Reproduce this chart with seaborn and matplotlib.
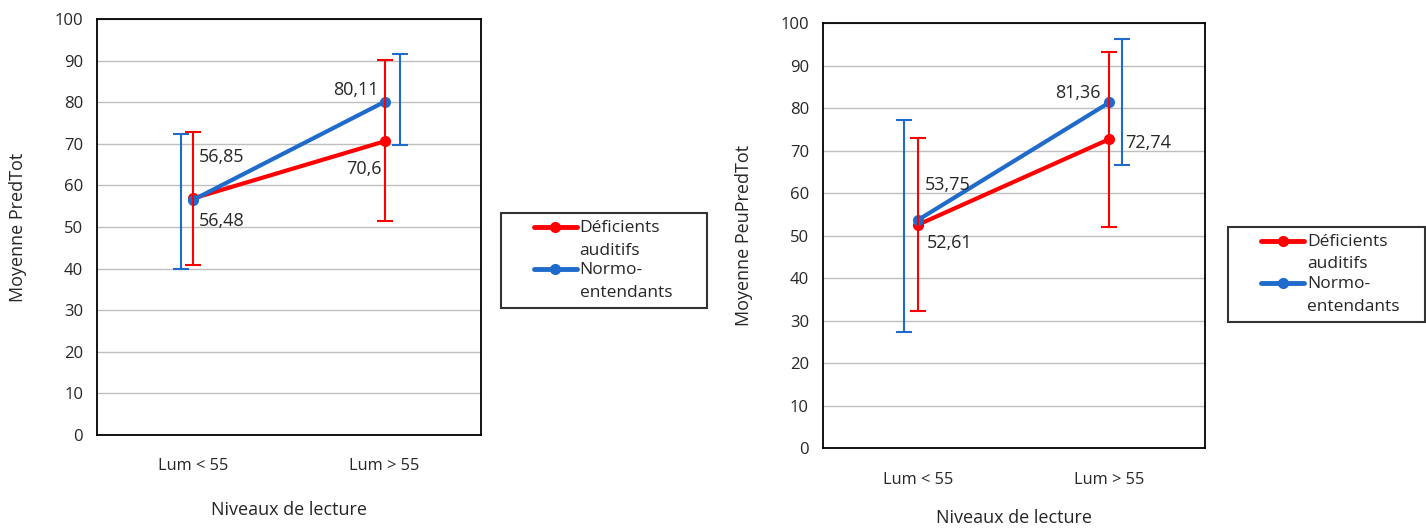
import matplotlib
matplotlib.use('Agg')
import matplotlib.pyplot as plt
from matplotlib.legend_handler import HandlerLine2D
import seaborn as sns
import pandas as pd

# Data
niveaux = ['Lum < 55', 'Lum > 55']
groupes = ['Déficients\nauditifs', 'Normo-\nentendants']

# PredTot (left chart)
pred_def = [56.85, 70.6]
pred_norm = [56.48, 80.11]
pred_def_low = [40.9, 51.4]
pred_def_high = [72.8, 90.1]
pred_norm_low = [39.9, 69.8]
pred_norm_high = [72.4, 91.7]

# PeuPredTot (right chart)
peu_def = [52.61, 72.74]
peu_norm = [53.75, 81.36]
peu_def_low = [32.2, 52.1]
peu_def_high = [73.1, 93.2]
peu_norm_low = [27.3, 66.6]
peu_norm_high = [77.2, 96.2]

RED = '#FF0000'
BLUE = '#1F6BCB'
TXT = '#262626'


class FirstLineHandler(HandlerLine2D):
    # put the legend line next to the first text line, Excel style
    def create_artists(self, legend, orig_handle, xdescent, ydescent,
                       width, height, fontsize, trans):
        arts = super().create_artists(legend, orig_handle, xdescent, ydescent,
                                      width, height, fontsize, trans)
        x0 = -xdescent + width * 0.38
        x1 = -xdescent + width
        y = (height - ydescent) / 2 + 0.7 * fontsize
        for a in arts:
            a.set_xdata([x0, (x0 + x1) / 2, x1])
            a.set_ydata([y, y, y])
        return arts


sns.set_theme(style='white')
plt.rcParams['font.family'] = ['Open Sans', 'DejaVu Sans']

fig = plt.figure(figsize=(14.26, 5.29), dpi=100)
ax1 = fig.add_axes([0.068, 0.178, 0.269, 0.786])
ax2 = fig.add_axes([0.577, 0.153, 0.268, 0.803])


def draw(ax, m_def, m_norm, lo_def, hi_def, lo_norm, hi_norm, ylabel,
         lab_offsets, norm_shift, leg_box, xpad):
    df = pd.DataFrame({
        'niveau': niveaux * 2,
        'groupe': [groupes[0]] * 2 + [groupes[1]] * 2,
        'moyenne': m_def + m_norm,
    })
    sns.lineplot(data=df, x='niveau', y='moyenne', hue='groupe',
                 palette=[RED, BLUE], marker='o', markersize=8,
                 markeredgewidth=0, linewidth=3, ax=ax, legend=False)

    # error bars (Excel draws them a bit shifted for the second series)
    for i in [0, 1]:
        ax.errorbar(i, m_def[i], yerr=[[m_def[i] - lo_def[i]], [hi_def[i] - m_def[i]]],
                    fmt='none', ecolor=RED, elinewidth=1.5, capsize=6, capthick=1.5)
        ax.errorbar(i + norm_shift[i], m_norm[i],
                    yerr=[[m_norm[i] - lo_norm[i]], [hi_norm[i] - m_norm[i]]],
                    fmt='none', ecolor=BLUE, elinewidth=1.5, capsize=6, capthick=1.5)

    # data labels
    vals = [(0, m_def[0]), (0, m_norm[0]), (1, m_norm[1]), (1, m_def[1])]
    for (x, v), (dx, dy, ha) in zip(vals, lab_offsets):
        ax.annotate(f'{v:g}'.replace('.', ','), (x, v), xytext=(dx, dy),
                    textcoords='offset pixels', ha=ha, va='center',
                    fontsize=13, color=TXT)

    ax.set_xlim(-0.5, 1.5)
    ax.set_ylim(0, 100)
    ax.set_yticks(range(0, 101, 10))
    ax.yaxis.grid(True, color='#BFBFBF', linewidth=1)
    ax.xaxis.grid(False)
    for s in ax.spines.values():
        s.set_color('black')
        s.set_linewidth(1.3)
    ax.tick_params(axis='y', length=0, pad=10, labelsize=12, labelcolor=TXT)
    ax.tick_params(axis='x', length=0, pad=17, labelsize=11.8, labelcolor=TXT)
    ax.set_xlabel('Niveaux de lecture', fontsize=13, labelpad=xpad, color=TXT)
    ax.set_ylabel(ylabel, fontsize=13, labelpad=20, color=TXT)

    handles = [plt.Line2D([], [], color=RED, lw=3.5, marker='o', markersize=7),
               plt.Line2D([], [], color=BLUE, lw=3.5, marker='o', markersize=7)]
    leg = ax.legend(handles, groupes, loc='upper left', bbox_to_anchor=leg_box,
                    bbox_transform=fig.transFigure, mode='expand',
                    borderaxespad=0, fontsize=12.5, frameon=True,
                    fancybox=False, edgecolor='black', handlelength=4.0,
                    handletextpad=0.15, labelspacing=0.2, borderpad=0.4,
                    handler_map={plt.Line2D: FirstLineHandler()})
    leg.get_frame().set_linewidth(1.5)
    for t in leg.get_texts():
        t.set_color(TXT)
        t.set_linespacing(1.55)


draw(ax1, pred_def, pred_norm, pred_def_low, pred_def_high,
     pred_norm_low, pred_norm_high, 'Moyenne PredTot',
     [(6, 41, 'left'), (6, -21, 'left'), (-6, 12, 'right'), (-3, -28, 'right')],
     [-0.06, 0.08], (0.351, 0.597, 0.1445, 0.0), 19)

draw(ax2, peu_def, peu_norm, peu_def_low, peu_def_high,
     peu_norm_low, peu_norm_high, 'Moyenne PeuPredTot',
     [(8, -18, 'left'), (6, 35, 'left'), (-9, 9, 'right'), (16, -4, 'left')],
     [-0.073, 0.068], (0.861, 0.571, 0.138, 0.0), 15)

fig.savefig('out.png', dpi=100)
